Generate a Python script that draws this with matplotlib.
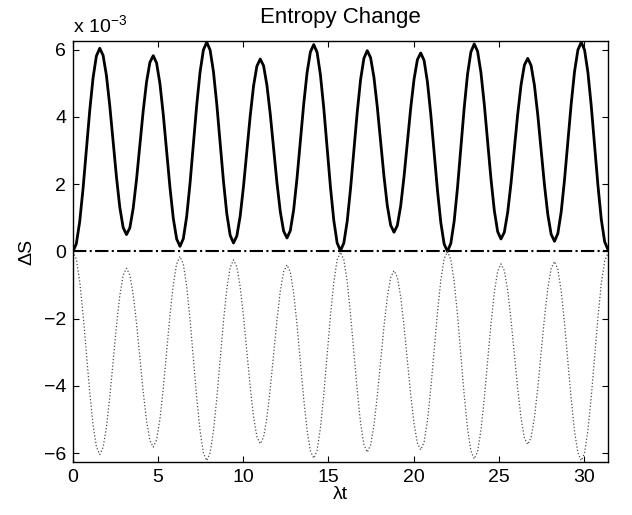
import numpy as np
import matplotlib
matplotlib.use('Agg')
import matplotlib.pyplot as plt

# fonts close to the Helvetica look of the original
plt.rcParams['font.family'] = ['Liberation Sans', 'DejaVu Sans']
plt.rcParams['mathtext.fontset'] = 'custom'
plt.rcParams['mathtext.rm'] = 'Liberation Sans'
plt.rcParams['mathtext.it'] = 'Liberation Sans:italic'
plt.rcParams['axes.unicode_minus'] = True

# sample times: 16 samples per pi over 0..10*pi
lambda_t = np.arange(161) * np.pi / 16

# entropy change of the first subsystem, in units of 1e-3
ds_one = [
    0.00, 0.23, 0.88, 1.86, 3.02, 4.18, 5.16, 5.81, 6.04,
    5.83, 5.23, 4.33, 3.27, 2.21, 1.31, 0.71, 0.50,
    0.70, 1.28, 2.14, 3.16, 4.18, 5.04, 5.62, 5.82,
    5.60, 4.99, 4.07, 2.99, 1.90, 0.98, 0.37, 0.15,
    0.38, 1.04, 2.02, 3.19, 4.35, 5.33, 5.99, 6.22,
    5.99, 5.35, 4.38, 3.24, 2.09, 1.12, 0.48, 0.25,
    0.46, 1.05, 1.94, 2.99, 4.03, 4.92, 5.51, 5.72,
    5.52, 4.94, 4.08, 3.06, 2.04, 1.18, 0.60, 0.40,
    0.62, 1.24, 2.18, 3.28, 4.38, 5.31, 5.93, 6.15,
    5.92, 5.25, 4.26, 3.09, 1.91, 0.92, 0.25, 0.02,
    0.25, 0.89, 1.86, 3.00, 4.13, 5.10, 5.74, 5.97,
    5.76, 5.18, 4.30, 3.27, 2.24, 1.36, 0.78, 0.57,
    0.77, 1.35, 2.22, 3.24, 4.26, 5.12, 5.70, 5.90,
    5.68, 5.04, 4.08, 2.95, 1.82, 0.86, 0.22, 0.00,
    0.24, 0.90, 1.90, 3.09, 4.27, 5.27, 5.93, 6.17,
    5.95, 5.32, 4.38, 3.27, 2.16, 1.22, 0.59, 0.37,
    0.57, 1.16, 2.03, 3.06, 4.08, 4.95, 5.54, 5.74,
    5.53, 4.94, 4.06, 3.02, 1.98, 1.10, 0.51, 0.30,
    0.53, 1.17, 2.13, 3.26, 4.39, 5.35, 5.99, 6.22,
    5.99, 5.32, 4.32, 3.14, 1.96, 0.95, 0.29, 0.05,
]

# second subsystem is the mirror image of the first in the picture
ds_two = [-v for v in ds_one]

# total change sits on zero the whole time
ds_total = [v + w for v, w in zip(ds_one, ds_two)]

x_ticks = [0, 5, 10, 15, 20, 25, 30]
y_ticks = [-6, -4, -2, 0, 2, 4, 6]

fig = plt.figure(figsize=(6.32, 5.15), dpi=100)
ax = fig.add_axes([0.1155, 0.103, 0.8465, 0.817])

ax.plot(lambda_t, ds_one, color='black', linewidth=2.0, linestyle='-',
        solid_joinstyle='round', solid_capstyle='round')
ax.plot(lambda_t, ds_two, color='0.3', linewidth=0.9, linestyle=':')
ax.plot(lambda_t, ds_total, color='black', linewidth=1.5, linestyle='-.')

ax.set_xlim(0, 10 * np.pi)
ax.set_ylim(-6.26, 6.25)
ax.set_xticks(x_ticks)
ax.set_yticks(y_ticks)
ax.tick_params(direction='in', length=4, width=0.8, top=True, right=True,
               labelsize=14, pad=5)
for spine in ax.spines.values():
    spine.set_linewidth(1.0)

ax.set_title('Entropy Change', fontsize=16, pad=13)
ax.set_xlabel('\u03bbt', fontsize=14, labelpad=0)
ax.set_ylabel('\u0394S', fontsize=14, labelpad=6)

# exponent note in the MATLAB style
ax.text(0.0, 1.012, r'x 10$^{\mathregular{-3}}$', transform=ax.transAxes,
        ha='left', va='bottom', fontsize=14)

fig.savefig('out.png', dpi=100)
